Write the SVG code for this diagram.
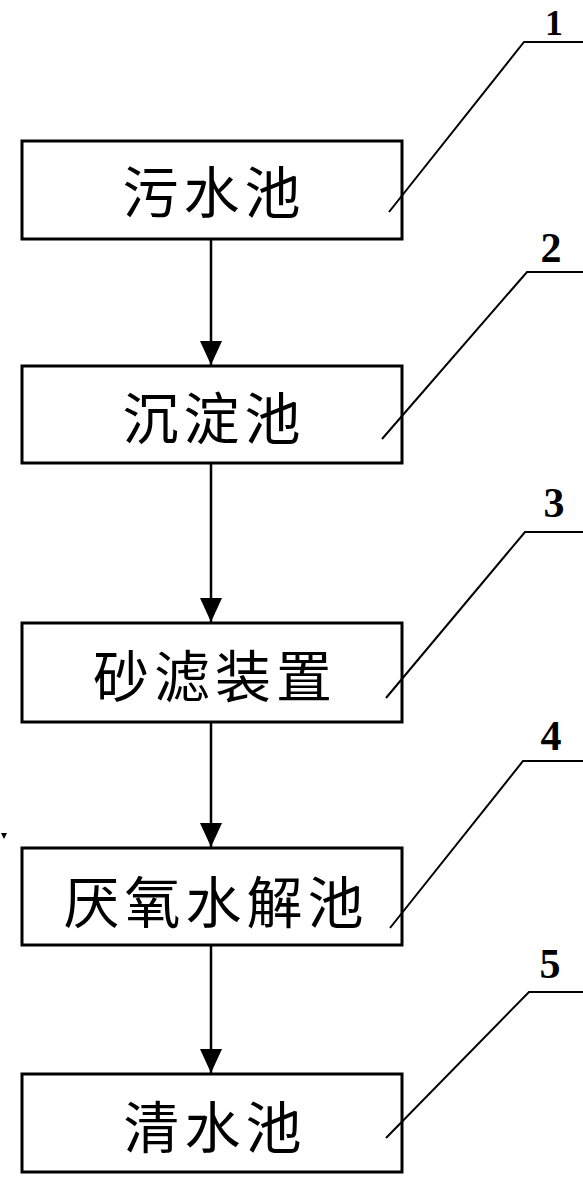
<svg xmlns="http://www.w3.org/2000/svg" width="583" height="1177" viewBox="0 0 583 1177">
<defs>
<style>
.box{fill:#fff;stroke:#000;stroke-width:3}
.lbl{font-family:"Noto Sans CJK SC","Noto Sans CJK JP",sans-serif;font-size:56px;letter-spacing:5px;fill:#000;text-anchor:middle}
.num{font-family:"Liberation Serif",serif;font-weight:bold;font-size:42px;fill:#000;text-anchor:middle}
.conn{stroke:#000;stroke-width:2.5;fill:none}
.lead{stroke:#000;stroke-width:2;fill:none}
</style>
<marker id="ah" markerUnits="userSpaceOnUse" markerWidth="24" markerHeight="22" refX="24" refY="11" orient="auto">
<path d="M0,0 L24,11 L0,22 Z" fill="#000"/>
</marker>
</defs>
<rect width="583" height="1177" fill="#fff"/>
<g id="connectors">
<line class="conn" x1="211" y1="240" x2="211" y2="365" marker-end="url(#ah)"/>
<line class="conn" x1="211" y1="464" x2="211" y2="622" marker-end="url(#ah)"/>
<line class="conn" x1="211" y1="723" x2="211" y2="847" marker-end="url(#ah)"/>
<line class="conn" x1="211" y1="946" x2="211" y2="1073" marker-end="url(#ah)"/>
</g>
<g id="node1">
<rect class="box" x="22" y="141" width="380" height="98"/>
<text class="lbl" x="214" y="213">污水池</text>
</g>
<g id="node2">
<rect class="box" x="22" y="366" width="380" height="97"/>
<text class="lbl" x="214" y="439">沉淀池</text>
</g>
<g id="node3">
<rect class="box" x="22" y="623" width="380" height="99"/>
<text class="lbl" x="215" y="697">砂滤装置</text>
</g>
<g id="node4">
<rect class="box" x="22" y="848" width="380" height="97"/>
<text class="lbl" x="216" y="923">厌氧水解池</text>
</g>
<g id="node5">
<rect class="box" x="22" y="1074" width="380" height="98"/>
<text class="lbl" x="215" y="1148">清水池</text>
</g>
<g id="leaders">
<polyline class="lead" points="389,212 524,42 583,42"/>
<polyline class="lead" points="382,439 527,272 583,272"/>
<polyline class="lead" points="386,698 525,532 583,532"/>
<polyline class="lead" points="390,928 523,761 583,761"/>
<polyline class="lead" points="386,1138 529,992 583,992"/>
</g>
<g id="labels">
<text class="num" x="554" y="35" style="font-size:36px">1</text>
<text class="num" x="551" y="262">2</text>
<text class="num" x="554" y="517">3</text>
<text class="num" x="551" y="750">4</text>
<text class="num" x="550" y="978">5</text>
</g>
<path d="M1,833 L7,833 L4,839 Z" fill="#000"/>
</svg>
